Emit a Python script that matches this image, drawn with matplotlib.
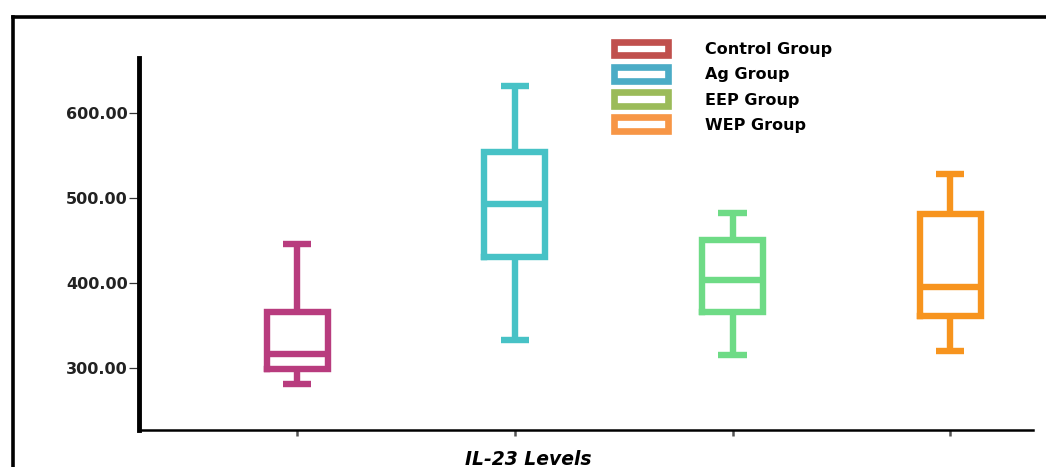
import matplotlib.pyplot as plt
from matplotlib.lines import Line2D
from matplotlib.patches import Patch
from matplotlib.ticker import FormatStrFormatter

# five-number summaries
groups = ["Control Group", "Ag Group", "EEP Group", "WEP Group"]
whisker_low = [281, 333, 315, 320]
q1 = [299, 431, 366, 361]
medians = [316, 493, 404, 395]
q3 = [366, 554, 451, 481]
whisker_high = [446, 632, 482, 528]

box_colors = ["#B83C7E", "#47C2C6", "#6EDB86", "#F7941E"]
legend_colors = ["#C0504D", "#4BACC6", "#9BBB59", "#F79646"]
y_ticks = [300, 400, 500, 600]

fig = plt.figure(figsize=(10.46, 4.67), dpi=100)
ax = fig.add_axes([0.1329, 0.0792, 0.8547, 0.7966])

stats = []
for i, name in enumerate(groups):
    stats.append({
        "label": name,
        "whislo": whisker_low[i],
        "q1": q1[i],
        "med": medians[i],
        "q3": q3[i],
        "whishi": whisker_high[i],
        "fliers": [],
    })

positions = list(range(1, len(groups) + 1))
lw = 4.6
bp = ax.bxp(stats, positions=positions, widths=0.28, capwidths=0.13,
            showfliers=False, patch_artist=False)
for i, c in enumerate(box_colors):
    for part in (bp["boxes"][i], bp["medians"][i]):
        part.set_color(c)
        part.set_linewidth(lw)
        part.set_solid_joinstyle("miter")
    for part in bp["whiskers"][2 * i:2 * i + 2] + bp["caps"][2 * i:2 * i + 2]:
        part.set_color(c)
        part.set_linewidth(lw)
        part.set_solid_capstyle("butt")

ax.set_xlim(0.274, 4.38)
ax.set_ylim(227, 665)
ax.set_yticks(y_ticks)
ax.yaxis.set_major_formatter(FormatStrFormatter("%.2f"))
ax.set_xticks(positions)
ax.set_xticklabels([""] * len(positions))

for s in ("top", "right"):
    ax.spines[s].set_visible(False)
ax.spines["left"].set_linewidth(3.5)
ax.spines["bottom"].set_linewidth(1.8)
ax.tick_params(axis="y", length=7, width=0.9, pad=1, labelsize=11.5,
               color="#333333")
ax.tick_params(axis="x", length=4, width=1.8, color="#555555")
for lab in ax.get_yticklabels():
    lab.set_fontweight("bold")
    lab.set_color("#222222")

ax.set_xlabel("IL-23 Levels", fontsize=13.5, fontweight="bold",
              fontstyle="italic", va="center")
ax.xaxis.set_label_coords(0.435, -0.078)

handles = [Patch(facecolor="white", edgecolor=c, linewidth=4.8,
                 joinstyle="round") for c in legend_colors]
fig.legend(handles, groups, loc="upper left", bbox_to_anchor=(0.579, 0.928),
           frameon=False, handlelength=3.4, handleheight=0.95,
           handletextpad=2.3, labelspacing=0.62, borderpad=0,
           prop={"weight": "bold", "size": 11.5})

# outer frame (left and top edges only)
fig.add_artist(Line2D([0.0124, 0.0124], [0.0, 0.9636], color="black",
                      linewidth=2.6, transform=fig.transFigure))
fig.add_artist(Line2D([0.0124, 1.0], [0.9636, 0.9636], color="black",
                      linewidth=2.6, transform=fig.transFigure))

fig.savefig("out.png", dpi=100)
